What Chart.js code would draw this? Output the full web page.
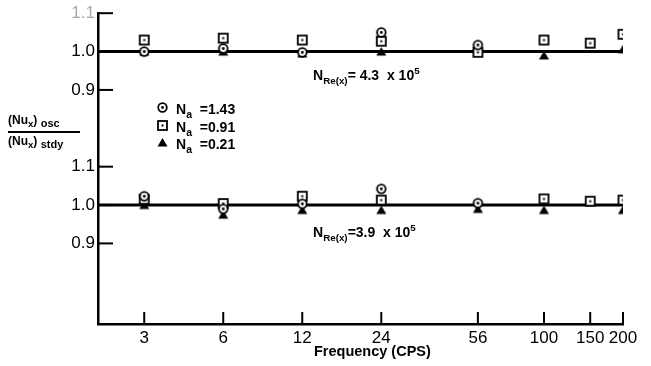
<!DOCTYPE html>
<html>
<head>
<meta charset="utf-8">
<script src="https://cdn.jsdelivr.net/npm/chart.js@4.4.1/dist/chart.umd.min.js"></script>
<style>
body{margin:0;background:#fff;}
#wrap{position:relative;width:651px;height:366px;font-family:"Liberation Sans",Arial,sans-serif;color:#000;}
#c{position:absolute;left:0;top:0;}
.t{position:absolute;font-weight:bold;white-space:nowrap;line-height:1;}
.t sub{font-size:70%;vertical-align:-4px;}
.t sup{font-size:70%;vertical-align:6px;}
#legend .row{position:absolute;left:156px;height:16px;font-weight:bold;font-size:14px;white-space:nowrap;}
#legend canvas{position:absolute;left:0;top:0;}
#legend span{position:absolute;left:20px;top:0px;}
#legend sub{font-size:75%;vertical-align:-4px;}
#ytitle{position:absolute;left:8px;top:114px;width:72px;font-weight:bold;font-size:12px;line-height:1;}
#ytitle .num{border-bottom:2px solid #000;padding-bottom:2px;}
#ytitle .den{padding-top:2px;}
#ytitle sub{font-size:80%;vertical-align:-3px;}
</style>
</head>
<body>
<div id="wrap">
<canvas id="c" width="651" height="366"></canvas>
<div id="ytitle"><div class="num">(Nu<sub>x</sub>) <span style="position:relative;top:3px;font-size:11px">osc</span></div><div class="den">(Nu<sub>x</sub>) <span style="position:relative;top:3px;font-size:11px">stdy</span></div></div>
<div id="legend"></div>
<div class="t" style="left:313px;top:66px;font-size:14px">N<sub>Re(x)</sub>= 4.3 &nbsp;x 10<sup>5</sup></div>
<div class="t" style="left:313px;top:223px;font-size:14px">N<sub>Re(x)</sub>=3.9 &nbsp;x 10<sup>5</sup></div>
<div class="t" style="left:314px;top:344px;font-size:14.5px">Frequency (CPS)</div>
</div>
<script>
// frequency (cps), log axis
const FREQ=[3,6,12,24,56,100,150,200];
const X_RANGE=[2,200];
const Y_TICKS=[0.9,1.0,1.1];
const REF_LEVEL=1.0;
const LEGEND=["1.43","0.91","0.21"];

// N_Re(x) = 4.3 x 10^5 (upper panel)
const hiCircle=[1.0,1.008,0.998,1.05,1.017,null,null,null];
const hiSquare=[1.03,1.035,1.03,1.027,0.998,1.03,1.022,1.045];
const hiTri=[1.0,1.0,0.995,1.0,null,0.99,null,1.006];
// N_Re(x) = 3.9 x 10^5 (lower panel)
const loCircle=[1.023,0.99,1.003,1.042,1.005,null,null,null];
const loSquare=[1.015,1.004,1.023,1.013,null,1.016,1.01,1.013];
const loTri=[1.0,0.975,0.987,0.987,0.99,0.987,null,0.987];

function marker(kind){
  const c=document.createElement('canvas');c.width=c.height=13;
  const g=c.getContext('2d');g.strokeStyle='#000';g.fillStyle='#000';g.lineWidth=1.8;
  if(kind==='circle'){
    g.fillStyle='#fff';g.beginPath();g.arc(6.5,6.5,4.3,0,2*Math.PI);g.fill();g.stroke();
    g.fillStyle='#000';g.beginPath();g.arc(6.5,6.5,1.4,0,2*Math.PI);g.fill();
  }else if(kind==='square'){
    g.fillStyle='#fff';g.fillRect(2,2,9,9);g.strokeRect(2,2,9,9);
    g.fillStyle='#000';g.fillRect(5.5,5.5,2,2);
  }else{
    g.beginPath();g.moveTo(6.5,2);g.lineTo(11.5,10.5);g.lineTo(1.5,10.5);g.closePath();g.fill();
  }
  return c;
}
const MK={circle:marker('circle'),square:marker('square'),tri:marker('tri')};

const pts=(arr)=>FREQ.map((f,i)=>({x:f,y:arr[i]})).filter(p=>p.y!==null);
const ds=(arr,kind,axis)=>({data:pts(arr),yAxisID:axis,pointStyle:MK[kind],pointRadius:6,showLine:false});
const refLine=(axis)=>({data:X_RANGE.map(x=>({x:x,y:REF_LEVEL})),yAxisID:axis,showLine:true,borderColor:'#000',borderWidth:3,pointRadius:0});

const inwardTicks={
  id:'inwardTicks',
  afterDraw(chart){
    const g=chart.ctx;g.save();g.strokeStyle='#000';g.lineWidth=2;
    ['top','bot'].forEach(id=>{
      const s=chart.scales[id];
      s.ticks.forEach(t=>{const y=s.getPixelForValue(t.value);g.beginPath();g.moveTo(s.right,y);g.lineTo(s.right+15,y);g.stroke();});
    });
    const x=chart.scales.x;
    x.ticks.forEach(t=>{const px=x.getPixelForValue(t.value);g.beginPath();g.moveTo(px,x.top);g.lineTo(px,x.top-12);g.stroke();});
    g.restore();
  }
};

const yScale=(min,w,stack)=>({
  type:'linear',position:'left',stack:'p',stackWeight:w,min:min,max:1.1,
  afterBuildTicks:s=>{s.ticks=Y_TICKS.map(v=>({value:v}));},
  afterFit:s=>{s.width=98;},
  grid:{drawOnChartArea:false,drawTicks:false},
  border:{display:true,color:'#000',width:2.5},
  ticks:{padding:3,font:{family:'Liberation Sans',size:17},
    color:c=>(stack==='top'&&c.tick&&c.tick.value===1.1)?'#aaa':'#000',
    callback:v=>v.toFixed(1)}
});

new Chart(document.getElementById('c'),{
  type:'scatter',
  data:{datasets:[
    ds(hiCircle,'circle','top'),ds(hiSquare,'square','top'),ds(hiTri,'tri','top'),
    ds(loCircle,'circle','bot'),ds(loSquare,'square','bot'),ds(loTri,'tri','bot'),
    refLine('top'),refLine('bot')
  ]},
  options:{
    responsive:false,animation:false,devicePixelRatio:1,
    layout:{padding:{top:13,right:28,left:0,bottom:0}},
    plugins:{legend:{display:false},tooltip:{enabled:false}},
    scales:{
      x:{type:'logarithmic',min:X_RANGE[0],max:X_RANGE[1],
        afterBuildTicks:s=>{s.ticks=FREQ.map(v=>({value:v}));},
        afterFit:s=>{s.height=42;},
        grid:{drawOnChartArea:false,drawTicks:false},
        border:{display:true,color:'#000',width:2.5},
        ticks:{padding:4,autoSkip:false,maxRotation:0,font:{family:'Liberation Sans',size:17},color:'#000',callback:v=>String(v)}},
      // left boxes are stacked in reverse order, so the lower panel is listed first
      bot:yScale(0.69,4.1,'bot'),
      top:yScale(0.7,4,'top')
    }
  },
  plugins:[inwardTicks]
});

// legend
const lg=document.getElementById('legend');
[['circle',101],['square',119],['tri',136]].forEach(([k,top],i)=>{
  const r=document.createElement('div');r.className='row';r.style.top=top+'px';
  const m=marker(k);r.appendChild(m);
  const s=document.createElement('span');s.innerHTML='N<sub>a</sub> &nbsp;='+LEGEND[i];r.appendChild(s);
  lg.appendChild(r);
});
</script>
</body>
</html>
